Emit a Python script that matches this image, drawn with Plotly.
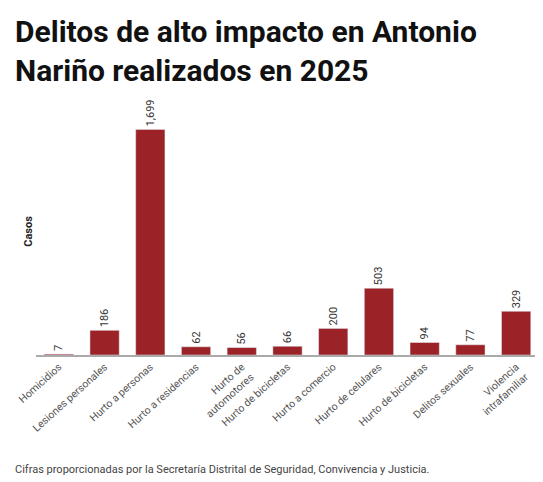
import plotly.graph_objects as go

categories = ["Homicidios", "Lesiones personales", "Hurto a personas", "Hurto a residencias",
              "Hurto de<br>automotores", "Hurto de bicicletas", "Hurto a comercio",
              "Hurto de celulares", "Hurto de bicicletas", "Delitos sexuales",
              "Violencia<br>intrafamiliar"]
values = [7, 186, 1699, 62, 56, 66, 200, 503, 94, 77, 329]
positions = list(range(len(categories)))

fig = go.Figure(go.Bar(
    x=positions, y=values, marker_color="#9b2226", width=0.64,
    text=[f"{v:,}" for v in values], textposition="outside", textangle=-90,
    textfont=dict(family="Roboto", size=11, color="#333"), cliponaxis=False))

fig.update_layout(
    width=543, height=482, plot_bgcolor="white", paper_bgcolor="white",
    margin=dict(l=28, r=12, t=100, b=135),
    showlegend=False,
    annotations=[
        dict(text="<b>Delitos de alto impacto en Antonio<br>Nariño realizados en 2025</b>",
             xref="paper", yref="paper", x=-0.045, y=1.39, xanchor="left", yanchor="top", align="left",
             showarrow=False, font=dict(family="Roboto", size=30, color="#111")),
        dict(text="Cifras proporcionadas por la Secretaría Distrital de Seguridad, Convivencia y Justicia.",
             xref="paper", yref="paper", x=-0.045, y=-0.43, xanchor="left", yanchor="top",
             showarrow=False, font=dict(family="Roboto", size=11, color="#444"))])
fig.update_xaxes(tickvals=positions, ticktext=categories, tickangle=-42, automargin=False,
                 tickfont=dict(family="Roboto", size=10.5, color="#555"),
                 showline=True, linecolor="#aaa", linewidth=1.5, range=[-0.5, 10.5])
fig.update_yaxes(showticklabels=False, showgrid=False, zeroline=False, range=[0, 1860], automargin=False,
                 title=dict(text="<b>Casos</b>", font=dict(family="Roboto", size=11, color="#222"), standoff=0))
fig.write_html("out.html")
